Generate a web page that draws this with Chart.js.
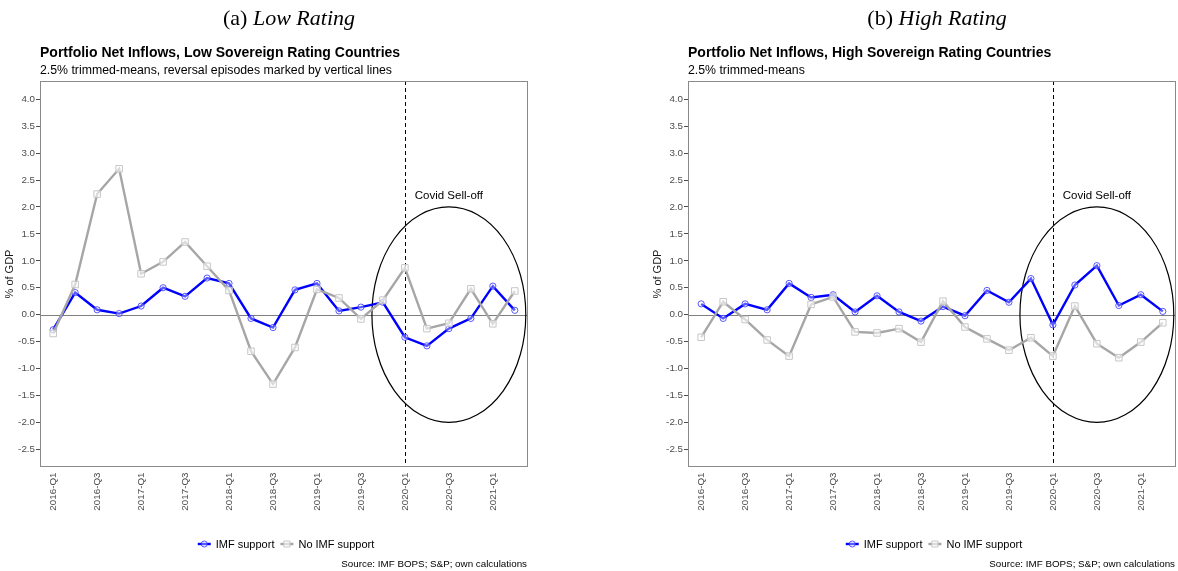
<!DOCTYPE html>
<html>
<head>
<meta charset="utf-8">
<script src="https://cdn.jsdelivr.net/npm/chart.js@4/dist/chart.umd.min.js"></script>
<style>
  html, body { margin: 0; padding: 0; background: #fff; }
  #wrap { position: relative; width: 1178px; height: 571px; overflow: hidden; }
  #wrap canvas { position: absolute; top: 0; }
</style>
</head>
<body>
<div id="wrap">
  <canvas id="lowChart" width="589" height="571" style="left:0px"></canvas>
  <canvas id="highChart" width="589" height="571" style="left:589px"></canvas>
</div>
<script>
// Quarterly portfolio net inflows, % of GDP (2.5% trimmed means)
const quarters = [
  '2016-Q1','2016-Q2','2016-Q3','2016-Q4',
  '2017-Q1','2017-Q2','2017-Q3','2017-Q4',
  '2018-Q1','2018-Q2','2018-Q3','2018-Q4',
  '2019-Q1','2019-Q2','2019-Q3','2019-Q4',
  '2020-Q1','2020-Q2','2020-Q3','2020-Q4',
  '2021-Q1','2021-Q2'
];

// Low sovereign rating countries
const lowImf   = [-0.28, 0.41, 0.09, 0.02, 0.16, 0.50, 0.34, 0.68, 0.58, -0.07, -0.24,
                   0.46, 0.58, 0.07, 0.14, 0.23, -0.42, -0.58, -0.26, -0.07, 0.53, 0.08];
const lowNoImf = [-0.35, 0.56, 2.24, 2.71, 0.76, 0.98, 1.35, 0.90, 0.45, -0.68, -1.29,
                  -0.61, 0.47, 0.31, -0.08, 0.27, 0.87, -0.26, -0.16, 0.48, -0.17, 0.44];

// High sovereign rating countries
const highImf   = [0.20, -0.07, 0.20, 0.09, 0.58, 0.32, 0.37, 0.05, 0.35, 0.05, -0.12,
                   0.15, -0.02, 0.45, 0.23, 0.67, -0.19, 0.55, 0.91, 0.17, 0.37, 0.06];
const highNoImf = [-0.42, 0.24, -0.09, -0.47, -0.77, 0.19, 0.33, -0.32, -0.34, -0.26, -0.51,
                    0.25, -0.23, -0.45, -0.66, -0.43, -0.77, 0.16, -0.54, -0.80, -0.51, -0.15];

// Axis ticks
const yTickValues = [-2.5, -2.0, -1.5, -1.0, -0.5, 0.0, 0.5, 1.0, 1.5, 2.0, 2.5, 3.0, 3.5, 4.0];
const xTickIndex  = quarters.map((q, i) => i).filter(i => i % 2 === 0);

// Reversal episode (2020-Q1) and the Covid sell-off window
const reversalQuarters = [16];
const sellOff = { x: 18, y: 0, rx: 3.5, ry: 2.0, labelY: 2.2, label: 'Covid Sell-off' };

const SANS  = "'Liberation Sans', Arial, Helvetica, sans-serif";
const SERIF = "'Liberation Serif', 'Times New Roman', serif";

const panelDecor = {
  id: 'panelDecor',
  beforeDatasetsDraw(chart, args, o) {
    const { ctx, chartArea: a, scales: { x, y } } = chart;
    ctx.save();
    // zero line
    ctx.strokeStyle = '#7f7f7f';
    ctx.lineWidth = 1;
    const y0 = Math.round(y.getPixelForValue(0)) + 0.5;
    ctx.beginPath(); ctx.moveTo(a.left, y0); ctx.lineTo(a.right, y0); ctx.stroke();
    // reversal episodes
    ctx.strokeStyle = '#000';
    ctx.setLineDash([4, 3]);
    o.reversals.forEach(i => {
      const px = Math.round(x.getPixelForValue(i)) + 0.5;
      ctx.beginPath(); ctx.moveTo(px, a.top); ctx.lineTo(px, a.bottom); ctx.stroke();
    });
    ctx.setLineDash([]);
    // sell-off ellipse
    const e = o.window;
    const cx = x.getPixelForValue(e.x), cy = y.getPixelForValue(e.y);
    const rx = Math.abs(x.getPixelForValue(e.x + e.rx) - cx);
    const ry = Math.abs(y.getPixelForValue(e.y + e.ry) - cy);
    ctx.lineWidth = 1.2;
    ctx.beginPath(); ctx.ellipse(cx, cy, rx, ry, 0, 0, Math.PI * 2); ctx.stroke();
    ctx.font = `11.5px ${SANS}`;
    ctx.fillStyle = '#000';
    ctx.textAlign = 'center';
    ctx.textBaseline = 'middle';
    ctx.fillText(e.label, cx, y.getPixelForValue(e.labelY));
    ctx.restore();
  },
  afterDraw(chart, args, o) {
    const { ctx, chartArea: a } = chart;
    ctx.save();
    // panel frame
    ctx.strokeStyle = '#8a8a8a';
    ctx.lineWidth = 1;
    ctx.strokeRect(Math.round(a.left) + 0.5, Math.round(a.top) + 0.5,
                   Math.round(a.right - a.left) - 1, Math.round(a.bottom - a.top) - 1);

    // sub-figure caption
    ctx.fillStyle = '#000';
    ctx.textAlign = 'left';
    ctx.textBaseline = 'alphabetic';
    const f1 = `22px ${SERIF}`, f2 = `italic 22px ${SERIF}`;
    ctx.font = f1; const w1 = ctx.measureText(o.caption[0]).width;
    ctx.font = f2; const w2 = ctx.measureText(o.caption[1]).width;
    const c0 = (a.left + a.right) / 2 + 5 - (w1 + w2) / 2;
    ctx.font = f1; ctx.fillText(o.caption[0], c0, 25);
    ctx.font = f2; ctx.fillText(o.caption[1], c0 + w1, 25);

    // chart title and subtitle
    ctx.font = `bold 14px ${SANS}`;
    ctx.fillText(o.title, a.left, 57);
    ctx.font = `12.3px ${SANS}`;
    ctx.fillText(o.subtitle, a.left, 74);

    // legend
    ctx.font = `11px ${SANS}`;
    const sym = 13, gap = 5, sep = 6;
    const items = chart.data.datasets.map(d => ({ d, w: ctx.measureText(d.label).width }));
    const total = items.reduce((s, it) => s + sym + gap + it.w, 0) + sep * (items.length - 1);
    let lx = (a.left + a.right) / 2 + 2 - total / 2;
    const ly = 544;
    items.forEach(({ d, w }) => {
      ctx.strokeStyle = d.borderColor;
      ctx.lineWidth = d.borderWidth;
      ctx.beginPath(); ctx.moveTo(lx, ly); ctx.lineTo(lx + sym, ly); ctx.stroke();
      ctx.lineWidth = 1;
      ctx.strokeStyle = d.pointBorderColor;
      ctx.fillStyle = d.pointBackgroundColor;
      ctx.beginPath();
      if (d.pointStyle === 'rect') ctx.rect(lx + sym / 2 - 3, ly - 3, 6, 6);
      else ctx.arc(lx + sym / 2, ly, 3, 0, Math.PI * 2);
      ctx.fill(); ctx.stroke();
      ctx.fillStyle = '#000';
      ctx.fillText(d.label, lx + sym + gap, 547.5);
      lx += sym + gap + w + sep;
    });

    // source note
    ctx.font = `9.8px ${SANS}`;
    ctx.textAlign = 'right';
    ctx.fillText(o.source, a.right - 1, 566.5);
    ctx.restore();
  }
};

function buildPanel(canvasId, cfg) {
  const toPoints = arr => arr.map((v, i) => ({ x: i, y: v }));
  return new Chart(document.getElementById(canvasId), {
    type: 'line',
    data: {
      datasets: [
        {
          label: 'IMF support',
          data: toPoints(cfg.imf),
          borderColor: '#0000ff',
          borderWidth: 2.4,
          tension: 0,
          pointStyle: 'circle',
          pointRadius: 3.1,
          pointBorderWidth: 1,
          pointBorderColor: 'rgba(50,50,255,0.8)',
          pointBackgroundColor: 'rgba(255,255,255,0.35)',
          order: 1
        },
        {
          label: 'No IMF support',
          data: toPoints(cfg.noImf),
          borderColor: '#a6a6a6',
          borderWidth: 2.4,
          tension: 0,
          pointStyle: 'rect',
          pointRadius: 4.6,
          pointBorderWidth: 1,
          pointBorderColor: '#c6c6c6',
          pointBackgroundColor: 'rgba(255,255,255,0.6)',
          order: 0
        }
      ]
    },
    options: {
      responsive: false,
      animation: false,
      devicePixelRatio: 1,
      layout: { padding: cfg.padding, autoPadding: false },
      plugins: {
        legend: { display: false },
        tooltip: { enabled: false },
        panelDecor: {
          caption: cfg.caption,
          title: cfg.title,
          subtitle: cfg.subtitle,
          source: 'Source: IMF BOPS; S&P; own calculations',
          reversals: reversalQuarters,
          window: sellOff
        }
      },
      scales: {
        x: {
          type: 'linear',
          min: -0.6,
          max: 21.6,
          afterBuildTicks: s => { s.ticks = xTickIndex.map(v => ({ value: v })); },
          afterFit: s => { s.height = 60; },
          ticks: {
            autoSkip: false,
            minRotation: 90,
            maxRotation: 90,
            padding: 5.5,
            color: '#4d4d4d',
            font: { family: SANS, size: 9.8 },
            callback: v => quarters[v]
          },
          grid: { display: true, drawOnChartArea: false, drawTicks: false },
          border: { display: false }
        },
        y: {
          min: -2.83,
          max: 4.34,
          afterBuildTicks: s => { s.ticks = yTickValues.map(v => ({ value: v })); },
          afterFit: s => { s.width = 40; },
          ticks: {
            padding: 1,
            color: '#4d4d4d',
            font: { family: SANS, size: 9.8 },
            callback: v => Number(v).toFixed(1)
          },
          grid: { display: true, drawOnChartArea: false, drawTicks: true, tickLength: 4, color: '#4d4d4d' },
          border: { display: false },
          title: {
            display: true,
            text: '% of GDP',
            color: '#1a1a1a',
            font: { family: SANS, size: 11 },
            padding: { top: 3, bottom: 0 }
          }
        }
      }
    },
    plugins: [panelDecor]
  });
}

buildPanel('lowChart', {
  imf: lowImf,
  noImf: lowNoImf,
  caption: ['(a) ', 'Low Rating'],
  title: 'Portfolio Net Inflows, Low Sovereign Rating Countries',
  subtitle: '2.5% trimmed-means, reversal episodes marked by vertical lines',
  padding: { left: 0, right: 61, top: 81, bottom: 44 }
});

buildPanel('highChart', {
  imf: highImf,
  noImf: highNoImf,
  caption: ['(b) ', 'High Rating'],
  title: 'Portfolio Net Inflows, High Sovereign Rating Countries',
  subtitle: '2.5% trimmed-means',
  padding: { left: 59, right: 2, top: 81, bottom: 44 }
});
</script>
</body>
</html>
